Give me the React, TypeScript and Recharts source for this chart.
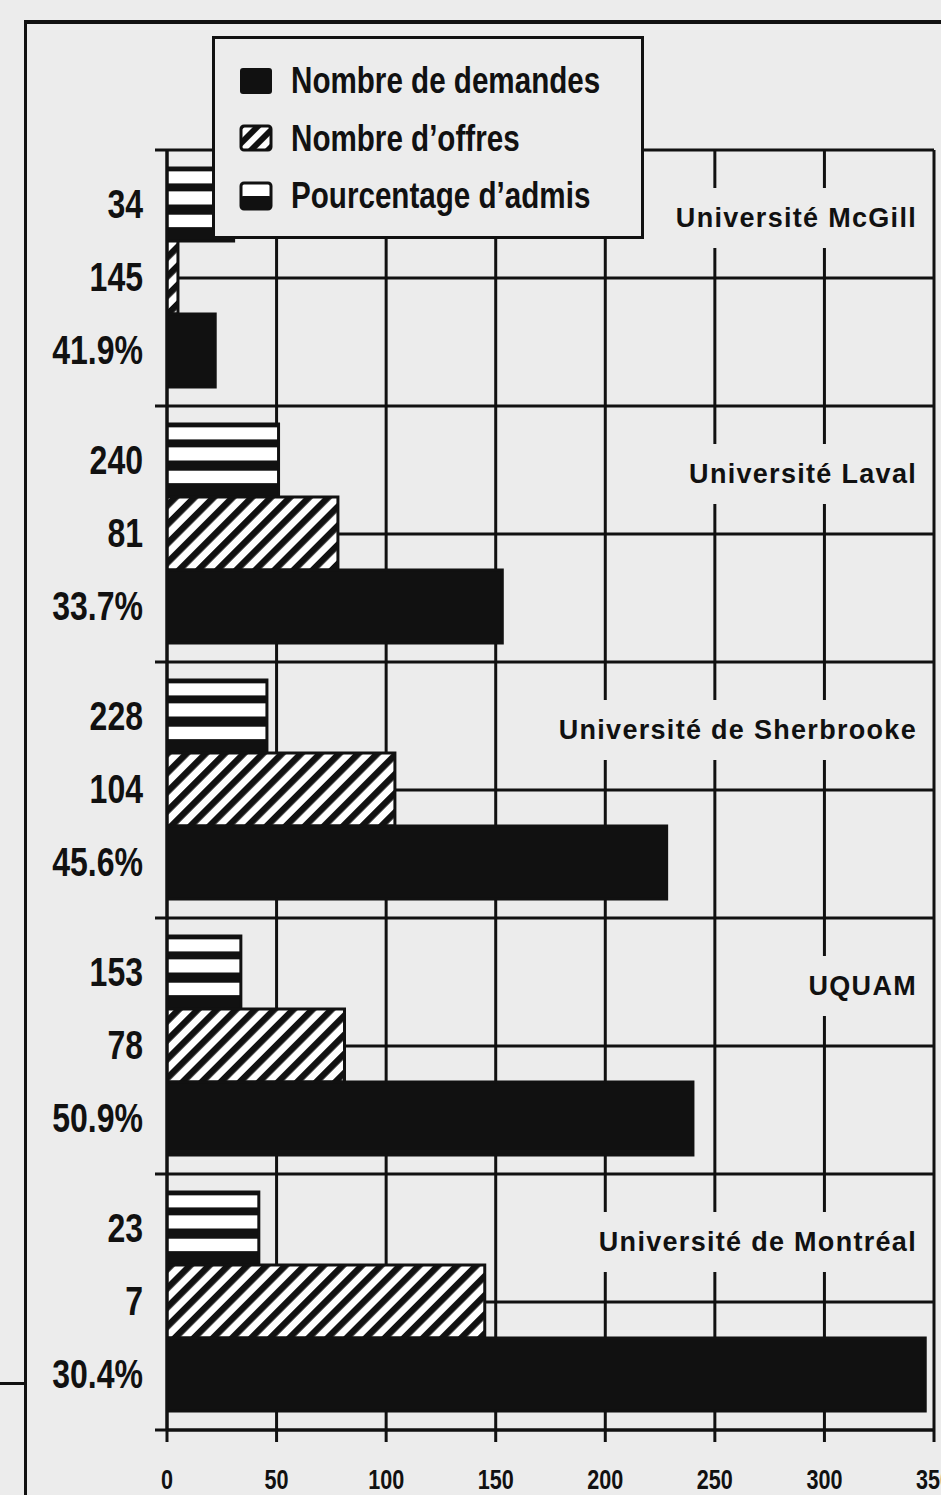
import React from 'react';
import { BarChart, Bar, XAxis, YAxis, CartesianGrid, Legend, LabelList } from 'recharts';

// ---- data ----
const universities = [
  'Université McGill',
  'Université Laval',
  'Université de Sherbrooke',
  'UQUAM',
  'Université de Montréal',
];
const pourcentageAdmis = [30.4, 50.9, 45.6, 33.7, 41.9];
const nombreOffres = [5, 78, 104, 81, 145];
const nombreDemandes = [22, 153, 228, 240, 346];

// labels printed left of the bars, one row each (top, middle, bottom)
const rowLabelsTop = ['34', '240', '228', '153', '23'];
const rowLabelsMiddle = ['145', '81', '104', '78', '7'];
const rowLabelsBottom = ['41.9%', '33.7%', '45.6%', '50.9%', '30.4%'];

const xTicks = [0, 50, 100, 150, 200, 250, 300, 350];
// horizontal rules: two per university (its top edge and its middle), plus the bottom edge
const gridDivisions = 2;

const seriesNames = {
  demandes: 'Nombre de demandes',
  offres: 'Nombre d\u2019offres',
  pct: 'Pourcentage d\u2019admis',
};
const legendOrder = ['demandes', 'offres', 'pct'];

const data = universities.map((name, i) => ({
  name,
  pct: pourcentageAdmis[i],
  offres: nombreOffres[i],
  demandes: nombreDemandes[i],
  lTop: rowLabelsTop[i],
  lMid: rowLabelsMiddle[i],
  lBot: rowLabelsBottom[i],
}));

// ---- styles ----
const FONT = "'Liberation Sans',Arial,Helvetica,sans-serif";
const INK = '#111111';
const PAPER = '#ececec';
const NARROW = 0.8;

function gridRows({ offset }: any) {
  const n = universities.length * gridDivisions;
  const rows: number[] = [];
  for (let k = 0; k <= n; k++) rows.push(offset.top + (offset.height * k) / n);
  return rows;
}

function NameTick(props: any) {
  const { x, y, payload } = props;
  const ref = React.useRef<SVGTextElement>(null);
  const [tw, setTw] = React.useState(0);
  const label = String(payload?.value ?? '');
  React.useLayoutEffect(() => {
    if (ref.current) setTw(ref.current.getComputedTextLength());
  }, [label]);
  const right = x - 17;
  const cy = y - 60;
  return (
    <g>
      {tw > 0 && (
        <rect x={right - tw - 12} y={cy - 30} width={tw + 22} height={60} fill={PAPER} />
      )}
      <text
        ref={ref}
        x={right}
        y={cy}
        textAnchor="end"
        dominantBaseline="central"
        fontFamily={FONT}
        fontWeight={700}
        fontSize={27}
        letterSpacing={1.3}
        fill={INK}
      >
        {label}
      </text>
    </g>
  );
}

// tick marks to the left of the axis, on the university boundaries
function BoundaryTick(props: any) {
  const { x, y, index, visibleTicksCount, height } = props;
  const count = visibleTicksCount || universities.length;
  const band = (Number(height) || 1280) / count;
  const top = y - band / 2;
  const bottom = y + band / 2;
  return (
    <g>
      <line x1={x - 12} x2={x} y1={top} y2={top} stroke={INK} strokeWidth={3} />
      {index === count - 1 && <line x1={x - 12} x2={x} y1={bottom} y2={bottom} stroke={INK} strokeWidth={3} />}
    </g>
  );
}

function RowLabel(props: any) {
  const vb = props.viewBox || props;
  const cx = vb.x - 24;
  const cy = vb.y + vb.height / 2;
  return (
    <text
      transform={`translate(${cx},${cy}) scale(${NARROW},1)`}
      textAnchor="end"
      dominantBaseline="central"
      fontFamily={FONT}
      fontWeight={700}
      fontSize={40}
      fill={INK}
    >
      {props.value}
    </text>
  );
}

function XTick(props: any) {
  const { x, y, payload } = props;
  return (
    <text
      transform={`translate(${x},${y + 35}) scale(${NARROW},1)`}
      textAnchor="middle"
      fontFamily={FONT}
      fontWeight={700}
      fontSize={27}
      fill={INK}
    >
      {payload.value}
    </text>
  );
}

function LegendIcon({ kind }: { kind: string }) {
  const box = { display: 'block', flexShrink: 0 } as React.CSSProperties;
  if (kind === 'demandes') {
    return (
      <svg width={34} height={28} style={box}>
        <rect x={1} y={1} width={32} height={26} rx={3} fill={INK} />
      </svg>
    );
  }
  if (kind === 'offres') {
    return (
      <svg width={34} height={28} style={box}>
        <defs>
          <pattern id="hatchLegend" patternUnits="userSpaceOnUse" width={12} height={12} patternTransform="rotate(45)">
            <rect width={12} height={12} fill="#fff" />
            <rect width={6} height={12} fill={INK} />
          </pattern>
        </defs>
        <rect x={2} y={2} width={30} height={24} rx={3} fill="url(#hatchLegend)" stroke={INK} strokeWidth={3} />
      </svg>
    );
  }
  return (
    <svg width={34} height={30} style={box}>
      <rect x={2} y={2} width={30} height={26} rx={3} fill="#fff" stroke={INK} strokeWidth={3} />
      <rect x={2} y={15} width={30} height={13} rx={2} fill={INK} />
    </svg>
  );
}

function renderLegend(props: any) {
  const payload: any[] = props.payload || [];
  const sorted = legendOrder
    .map((k) => payload.find((p) => p.dataKey === k))
    .filter(Boolean);
  return (
    <div
      style={{
        boxSizing: 'border-box',
        width: 432,
        height: 203,
        border: `3px solid ${INK}`,
        background: PAPER,
        paddingTop: 13,
        paddingLeft: 24,
        overflow: 'hidden',
      }}
    >
      {sorted.map((p: any) => (
        <div key={p.dataKey} style={{ display: 'flex', alignItems: 'center', height: 57.5 }}>
          <LegendIcon kind={p.dataKey} />
          <span
            style={{
              display: 'inline-block',
              marginLeft: 18,
              fontFamily: FONT,
              fontWeight: 700,
              fontSize: 37,
              color: INK,
              lineHeight: '57px',
              whiteSpace: 'nowrap',
              transform: `scaleX(${NARROW})`,
              transformOrigin: 'left center',
            }}
          >
            {p.value}
          </span>
        </div>
      ))}
    </div>
  );
}

export default function App() {
  return (
    <div style={{ position: 'absolute', left: 0, top: 0, width: 941, height: 1495, background: PAPER, overflow: 'hidden' }}>
      <div style={{ position: 'absolute', left: 25, top: 20, width: 916, height: 4, background: INK }} />
      <div style={{ position: 'absolute', left: 24, top: 20, width: 3, height: 1475, background: INK }} />
      <div style={{ position: 'absolute', left: 0, top: 1382, width: 26, height: 3, background: INK }} />
      <BarChart
        width={941}
        height={1495}
        data={data}
        layout="vertical"
        margin={{ top: 150, right: 6, bottom: 0, left: 0 }}
        barCategoryGap={18}
        barGap={0}
      >
        <defs>
          <pattern id="hatch" patternUnits="userSpaceOnUse" width={13.5} height={13.5} patternTransform="rotate(45)">
            <rect width={13.5} height={13.5} fill="#fff" />
            <rect width={6.5} height={13.5} fill={INK} />
          </pattern>
          <pattern id="stripes" patternUnits="objectBoundingBox" patternContentUnits="objectBoundingBox" width={1} height={1}>
            <rect width={1} height={1} fill={INK} />
            <rect y={0.046} width={1} height={0.165} fill="#fff" />
            <rect y={0.32} width={1} height={0.18} fill="#fff" />
            <rect y={0.64} width={1} height={0.17} fill="#fff" />
          </pattern>
        </defs>
        <CartesianGrid
          stroke={INK}
          strokeWidth={3}
          yAxisId="cat"
          fill="none"
          horizontalCoordinatesGenerator={gridRows}
        />
        <XAxis
          type="number"
          domain={[0, 350]}
          ticks={xTicks}
          interval={0}
          allowDataOverflow
          height={65}
          tickSize={12}
          tickMargin={12}
          axisLine={{ stroke: INK, strokeWidth: 3 }}
          tickLine={{ stroke: INK, strokeWidth: 3 }}
          tick={<XTick />}
        />
        <YAxis
          yAxisId="catL"
          type="category"
          dataKey="name"
          width={167}
          tickSize={0}
          tickMargin={0}
          interval={0}
          axisLine={{ stroke: INK, strokeWidth: 3 }}
          tickLine={false}
          tick={<BoundaryTick />}
        />
        <YAxis
          yAxisId="cat"
          type="category"
          dataKey="name"
          orientation="right"
          width={1}
          axisLine={false}
          tickLine={false}
          tickSize={0}
          tickMargin={0}
          interval={0}
          tick={<NameTick />}
        />
        <Bar
          dataKey="pct"
          name={seriesNames.pct}
          yAxisId="cat"
          fill="url(#stripes)"
          stroke={INK}
          strokeWidth={3}
          isAnimationActive={false}
        >
          <LabelList dataKey="lTop" position="left" content={RowLabel} />
        </Bar>
        <Bar
          dataKey="offres"
          name={seriesNames.offres}
          yAxisId="cat"
          fill="url(#hatch)"
          stroke={INK}
          strokeWidth={3}
          isAnimationActive={false}
        >
          <LabelList dataKey="lMid" position="left" content={RowLabel} />
        </Bar>
        <Bar
          dataKey="demandes"
          name={seriesNames.demandes}
          yAxisId="cat"
          fill={INK}
          stroke={INK}
          strokeWidth={3}
          isAnimationActive={false}
        >
          <LabelList dataKey="lBot" position="left" content={RowLabel} />
        </Bar>
        <Legend
          layout="vertical"
          align="center"
          verticalAlign="middle"
          wrapperStyle={{ left: 212, top: 36, width: 432, height: 203 }}
          content={renderLegend}
        />
      </BarChart>
    </div>
  );
}
